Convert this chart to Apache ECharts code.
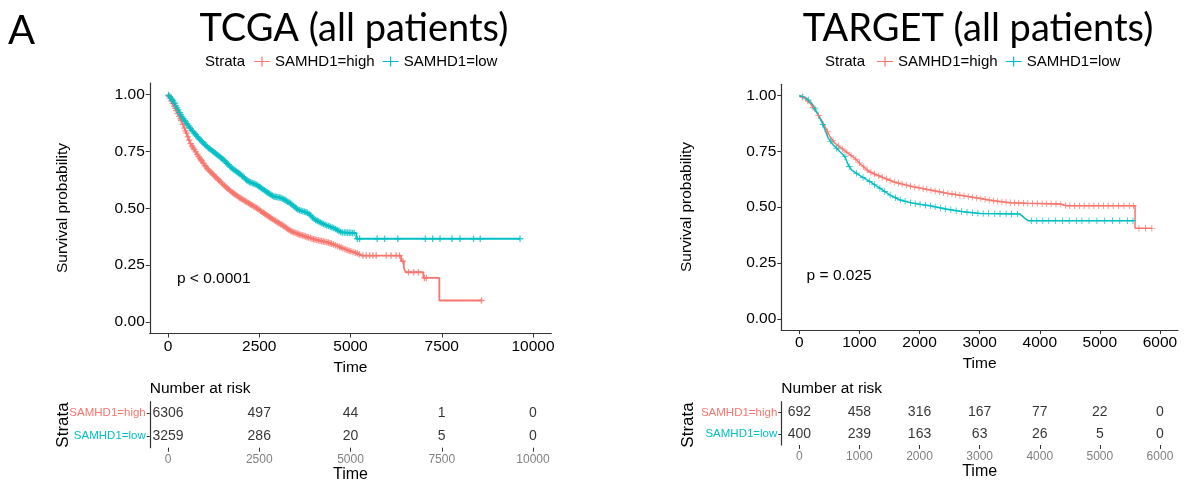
<!DOCTYPE html>
<html><head><meta charset="utf-8">
<script src="https://cdn.jsdelivr.net/npm/echarts@6/dist/echarts.min.js"></script>
<style>html,body{margin:0;padding:0;background:#fff}#c{width:1184px;height:485px}</style>
</head><body><div id="c"></div>
<script>
// ---------- data ----------
const strata = ['SAMHD1=high', 'SAMHD1=low'];
const tcgaTicks = [0, 2500, 5000, 7500, 10000];
const targetTicks = [0, 1000, 2000, 3000, 4000, 5000, 6000];
const survTicks = [0, 0.25, 0.5, 0.75, 1];

const tcgaHigh = [[0,1],[156,0.953],[382,0.880],[611,0.786],[838,0.727],[1065,0.676],[1293,0.639],[1520,0.603],[1747,0.571],[1976,0.545],[2203,0.523],[2429,0.501],[2658,0.475],[2885,0.450],[3111,0.428],[3384,0.398],[3634,0.383],[4010,0.363],[4386,0.350],[4659,0.333],[4932,0.315],[5205,0.301],[5295,0.292],[6386,0.292],[6386,0.268],[6460,0.268],[6460,0.240],[6510,0.240],[6510,0.219],[6998,0.219],[6998,0.194],[7434,0.194],[7434,0.095],[8589,0.095]];
const tcgaLow = [[0,1],[156,0.968],[382,0.902],[611,0.851],[838,0.808],[1065,0.771],[1293,0.742],[1520,0.713],[1747,0.676],[1976,0.650],[2203,0.617],[2429,0.603],[2658,0.577],[2885,0.552],[3111,0.545],[3341,0.523],[3567,0.493],[3840,0.479],[4023,0.450],[4296,0.428],[4569,0.411],[4749,0.394],[5160,0.391],[5160,0.366],[9645,0.366]];
const tcgaHighCens = [20,55,95,130,170,200,230,270,310,340,365,410,450,480,505,545,580,620,660,690,715,760,800,835,870,900,925,970,1010,1040,1075,1110,1150,1180,1210,1250,1290,1320,1360,1390,1425,1465,1500,1545,1585,1610,1640,1680,1720,1760,1795,1830,1860,1900,1945,1975,2010,2045,2085,2120,2160,2200,2240,2270,2300,2345,2385,2420,2450,2490,2530,2570,2610,2640,2670,2710,2755,2790,2820,2860,2905,2940,2980,3010,3045,3090,3130,3170,3210,3245,3280,3320,3365,3400,3440,3485,3530,3565,3600,3645,3690,3730,3770,3810,3850,3900,3945,3990,4030,4075,4120,4165,4210,4255,4300,4350,4395,4440,4480,4535,4590,4645,4700,4745,4790,4850,4905,4960,5010,5070,5130,5185,5240,5341,5432,5523,5614,5705,5978,6114,6251,6342,6433,6588,6733,6861,7025,7079,8589];
const tcgaLowCens = [15,50,85,115,140,180,215,250,280,320,350,385,420,455,480,520,555,590,620,665,700,730,760,800,835,870,905,940,970,1005,1040,1085,1120,1150,1185,1225,1260,1295,1330,1365,1400,1440,1475,1505,1540,1580,1615,1650,1690,1725,1760,1800,1840,1875,1910,1940,1975,2015,2050,2090,2130,2160,2195,2235,2270,2310,2350,2380,2415,2455,2495,2525,2560,2600,2640,2680,2715,2745,2780,2820,2860,2900,2935,2970,3010,3050,3090,3130,3170,3205,3240,3280,3320,3360,3400,3440,3480,3520,3560,3605,3650,3695,3740,3780,3820,3865,3910,3955,4000,4045,4090,4130,4170,4215,4260,4305,4350,4400,4450,4495,4540,4590,4640,4685,4730,4780,4830,4875,4920,4965,5010,5055,5100,5186,5250,5731,5933,6297,7052,7252,7452,7779,7997,8371,8553,9645];

const targetHigh = [[0,1],[95,0.987],[178,0.965],[261,0.935],[333,0.905],[400,0.875],[456,0.845],[511,0.815],[594,0.786],[705,0.763],[815,0.741],[927,0.718],[1038,0.688],[1148,0.662],[1260,0.647],[1398,0.632],[1564,0.614],[1730,0.602],[1897,0.591],[2175,0.577],[2453,0.562],[2729,0.551],[3007,0.539],[3228,0.529],[3506,0.520],[3784,0.517],[4338,0.514],[4449,0.506],[5586,0.506],[5586,0.405],[5864,0.405]];
const targetLow = [[0,1],[123,0.987],[206,0.965],[289,0.927],[372,0.882],[428,0.845],[483,0.808],[566,0.778],[677,0.748],[760,0.726],[815,0.688],[872,0.666],[1010,0.641],[1176,0.614],[1343,0.584],[1509,0.554],[1676,0.532],[1897,0.517],[2175,0.506],[2453,0.491],[2729,0.479],[3007,0.472],[3672,0.469],[3755,0.450],[3811,0.439],[5570,0.439]];
const targetHighCens = [60,140,230,320,470,560,650,720,790,860,940,1000,1070,1130,1190,1250,1320,1380,1450,1510,1580,1650,1710,1780,1850,1920,1990,2060,2120,2190,2260,2330,2400,2470,2540,2600,2670,2740,2810,2880,2950,3020,3090,3160,3230,3300,3370,3440,3510,3580,3650,3730,3800,3880,3960,4040,4110,4190,4270,4350,4430,4500,4580,4660,4740,4820,4900,4980,5060,5140,5220,5310,5400,5490,5560,5650,5760,5864];
const targetLowCens = [50,150,260,390,520,620,760,830,950,1060,1170,1250,1340,1420,1510,1600,1680,1760,1850,1930,2010,2100,2180,2260,2350,2430,2520,2610,2700,2790,2880,2970,3060,3150,3250,3340,3440,3530,3630,3860,3950,4050,4150,4260,4380,4490,4610,4700,4820,4950,5080,5210,5330,5460,5550];

const tcgaRiskHigh = [6306, 497, 44, 1, 0];
const tcgaRiskLow = [3259, 286, 20, 5, 0];
const targetRiskHigh = [692, 458, 316, 167, 77, 22, 0];
const targetRiskLow = [400, 239, 163, 63, 26, 5, 0];

const pTcga = 'p < 0.0001';
const pTarget = 'p = 0.025';

// ---------- helpers ----------
const COL = {'SAMHD1=high': '#F8766D', 'SAMHD1=low': '#00BFC4'};
const PLUS = 'path://M0,4.3h10v1.4h-10z M4.3,0h1.4v10h-1.4z';
const PLUS_BOLD = 'path://M0,4h10v2h-10z M4,0h2v10h-2z';
const LEG_ICON = 'path://M0,4.4h16v1.2h-16z M7.4,0h1.2v10h-1.2z';
const AX = '#333';
const FONT = "'Liberation Sans', Arial, sans-serif";
const TFONT = "Lato, sans-serif";

function survAt(curve, t) {
  let v = curve[0][1];
  for (let i = 0; i < curve.length; i++) {
    if (curve[i][0] <= t) v = curve[i][1];
    else {
      const a = curve[i - 1], b = curve[i];
      if (b[0] !== a[0]) v = a[1] + (b[1] - a[1]) * (t - a[0]) / (b[0] - a[0]);
      break;
    }
  }
  return v;
}
function cens(curve, times) { return times.map(t => [t, survAt(curve, t)]); }

function mainAxes(gi, min, max, ticks) {
  const x = {
    type: 'value', gridIndex: gi, min: min, max: max,
    axisLine: {onZero: false, lineStyle: {color: AX, width: 1.2}},
    axisTick: {show: true, length: 4, lineStyle: {color: AX}, customValues: ticks},
    axisLabel: {color: '#000', fontSize: 15.5, fontFamily: FONT, margin: 5, customValues: ticks,
      formatter: v => String(v)},
    splitLine: {show: false},
    name: 'Time', nameLocation: 'middle', nameGap: 22,
    nameTextStyle: {color: '#000', fontSize: 15.5, fontFamily: FONT}
  };
  const y = {
    type: 'value', gridIndex: gi, min: -0.05, max: 1.05,
    axisLine: {show: true, onZero: false, lineStyle: {color: AX, width: 1.2}},
    axisTick: {show: true, length: 4, lineStyle: {color: AX}, customValues: survTicks},
    axisLabel: {color: '#000', fontSize: 15.5, fontFamily: FONT, margin: 5, customValues: survTicks,
      formatter: v => v.toFixed(2)},
    splitLine: {show: false}
  };
  return [x, y];
}
function riskAxes(gi, min, max, ticks) {
  const x = {
    type: 'value', gridIndex: gi, min: min, max: max,
    axisLine: {onZero: false, lineStyle: {color: AX, width: 1.2}},
    axisTick: {show: true, length: 4, lineStyle: {color: AX}, customValues: ticks},
    axisLabel: {color: '#7f7f7f', fontSize: 12, fontFamily: FONT, margin: 6, customValues: ticks,
      formatter: v => String(v)},
    splitLine: {show: false},
    name: 'Time', nameLocation: 'middle', nameGap: 19,
    nameTextStyle: {color: '#000', fontSize: 16, fontFamily: FONT}
  };
  const y = {
    type: 'category', gridIndex: gi, data: ['SAMHD1=low', 'SAMHD1=high'],
    axisLine: {show: true, onZero: false, lineStyle: {color: AX, width: 1.2}},
    axisTick: {show: true, length: 3, alignWithLabel: true, lineStyle: {color: AX}},
    axisLabel: {fontSize: 11.5, fontFamily: FONT, margin: 4, color: v => COL[v]},
    splitLine: {show: false}
  };
  return [x, y];
}
function kmSeries(ai, name, curve, censTimes, sym, lw) {
  return [
    {type: 'line', name: name, xAxisIndex: ai, yAxisIndex: ai, data: curve, showSymbol: false,
     symbol: 'none', lineStyle: {color: COL[name], width: lw}, itemStyle: {color: COL[name]}, z: 3},
    {type: 'scatter', name: name, xAxisIndex: ai, yAxisIndex: ai, data: cens(curve, censTimes),
     symbol: sym, symbolSize: 6.5, itemStyle: {color: COL[name]}, z: 4}
  ];
}
function riskSeries(ai, ticks, vals, cat) {
  return {
    type: 'scatter', xAxisIndex: ai, yAxisIndex: ai, symbolSize: 1,
    itemStyle: {color: 'transparent'},
    data: ticks.map((t, i) => [t, cat, vals[i]]),
    label: {show: true, position: 'inside', formatter: p => String(p.value[2]),
            color: '#000', fontSize: 14, fontFamily: FONT}
  };
}

const [x0, y0] = mainAxes(0, -500, 10500, tcgaTicks);
const [x1, y1] = mainAxes(1, -300, 6300, targetTicks);
const [x2, y2] = riskAxes(2, -500, 10500, tcgaTicks);
const [x3, y3] = riskAxes(3, -300, 6300, targetTicks);

function legend(left, top) {
  return {
    left: left, top: top, orient: 'horizontal', itemWidth: 16, itemHeight: 10, itemGap: 8, padding: 0,
    selectedMode: false,
    textStyle: {color: '#000', fontSize: 15, fontFamily: FONT},
    data: strata.map(s => ({name: s, icon: LEG_ICON}))
  };
}

function txt(x, y, text, size, opts) {
  return {type: 'text', x: x, y: y,
    style: Object.assign({text: text, fill: '#000', fontSize: size, fontFamily: FONT,
      align: 'left', verticalAlign: 'middle'}, opts || {})};
}

const option = {
  animation: false,
  backgroundColor: '#fff',
  grid: [
    {left: 149.75, top: 83, width: 401.5, height: 250.5},
    {left: 781.3, top: 84.3, width: 396.7, height: 245.7},
    {left: 149.75, top: 401.7, width: 401.5, height: 46},
    {left: 781.3, top: 401.7, width: 396.7, height: 43.3}
  ],
  xAxis: [x0, x1, x2, x3],
  yAxis: [y0, y1, y2, y3],
  legend: [legend(254, 54), legend(877, 54)],
  series: [
    ...kmSeries(0, 'SAMHD1=high', tcgaHigh, tcgaHighCens, PLUS_BOLD, 1.8),
    ...kmSeries(0, 'SAMHD1=low', tcgaLow, tcgaLowCens, PLUS_BOLD, 1.8),
    ...kmSeries(1, 'SAMHD1=high', targetHigh, targetHighCens, PLUS, 1.5),
    ...kmSeries(1, 'SAMHD1=low', targetLow, targetLowCens, PLUS, 1.5),
    riskSeries(2, tcgaTicks, tcgaRiskHigh, 'SAMHD1=high'),
    riskSeries(2, tcgaTicks, tcgaRiskLow, 'SAMHD1=low'),
    riskSeries(3, targetTicks, targetRiskHigh, 'SAMHD1=high'),
    riskSeries(3, targetTicks, targetRiskLow, 'SAMHD1=low')
  ],
  graphic: [
    txt(8, 31, 'A', 40, {fontFamily: TFONT}),
    txt(354, 29, 'TCGA (all patients)', 38, {fontFamily: TFONT, align: 'center'}),
    txt(978, 29, 'TARGET (all patients)', 38, {fontFamily: TFONT, align: 'center'}),
    txt(205, 62, 'Strata', 15),
    txt(825, 62, 'Strata', 15),
    Object.assign(txt(63, 208, 'Survival probability', 15.5, {align: 'center'}), {rotation: Math.PI / 2}),
    Object.assign(txt(687, 207, 'Survival probability', 15.5, {align: 'center'}), {rotation: Math.PI / 2}),
    txt(176.9, 279, pTcga, 15.5),
    txt(806.6, 276, pTarget, 15.5),
    txt(149.75, 389, 'Number at risk', 15.5),
    txt(781.3, 389, 'Number at risk', 15.5),
    Object.assign(txt(63, 425, 'Strata', 17, {align: 'center'}), {rotation: Math.PI / 2}),
    Object.assign(txt(688, 425, 'Strata', 17, {align: 'center'}), {rotation: Math.PI / 2})
  ]
};

const chart = echarts.init(document.getElementById('c'), null, {renderer: 'canvas'});
chart.setOption(option);
</script>
</body></html>
